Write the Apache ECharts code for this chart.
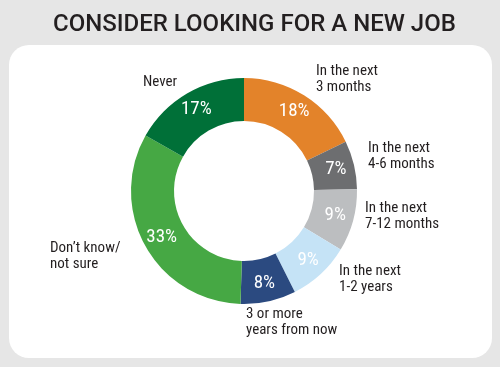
<!DOCTYPE html>
<html><head><meta charset="utf-8">
<script src="https://cdn.jsdelivr.net/npm/echarts@6/dist/echarts.min.js"></script>
<style>html,body{margin:0;padding:0;background:#e6e6e6}#c{width:500px;height:367px}</style>
</head><body><div id="c"></div>
<script>
const categories = ["In the next\n3 months","In the next\n4-6 months","In the next\n7-12 months","In the next\n1-2 years","3 or more\nyears from now","Don\u2019t know/\nnot sure","Never"];
const values = [18, 7, 9, 9, 8, 33, 17];
const colors = ["#E3832A","#6D6E70","#BCBEC0","#C5E3F6","#2B4A80","#46A844","#007038"];
const labelSpots = [[316,63],[368,140],[365,200],[339,263],[246,306],[50,240],[143,74]];

const font = "'Roboto Condensed', 'DejaVu Sans Condensed', sans-serif";
const data = categories.map((n,i)=>({name:n, value:values[i], itemStyle:{color:colors[i]}}));
const chart = echarts.init(document.getElementById('c'), null, {renderer:'canvas'});
chart.setOption({
  backgroundColor:'#e6e6e6',
  animation:false,
  title:{text:'CONSIDER LOOKING FOR A NEW JOB', left:48, top:8,
    textStyle:{fontFamily:"Roboto, sans-serif", fontSize:24, fontWeight:500, color:'#231f20'}},
  graphic:[{type:'rect', z:-10, shape:{x:9,y:45,width:483,height:313,r:20}, style:{fill:'#ffffff'}}],
  series:[
    {type:'pie', center:[244,191], radius:[70,113], startAngle:90, clockwise:true, silent:true,
     data:data,
     label:{position:'inside', formatter:'{c}%', color:'#fff', fontFamily:font, fontSize:19, fontWeight:'normal'},
     labelLine:{show:false}},
    {type:'pie', center:[244,191], radius:[70,113], startAngle:90, clockwise:true, silent:true,
     data:data.map(d=>({name:d.name, value:d.value, itemStyle:{color:'rgba(0,0,0,0)'}})),
     label:{position:'outside', formatter:'{b}', color:'#231f20', fontFamily:font, fontSize:15, fontWeight:'normal', lineHeight:16, align:'left'},
     labelLine:{show:false},
     labelLayout:function(p){const s=labelSpots[p.dataIndex];return {x:s[0], y:s[1], align:'left', verticalAlign:'top'};}}
  ]
});
</script></body></html>
